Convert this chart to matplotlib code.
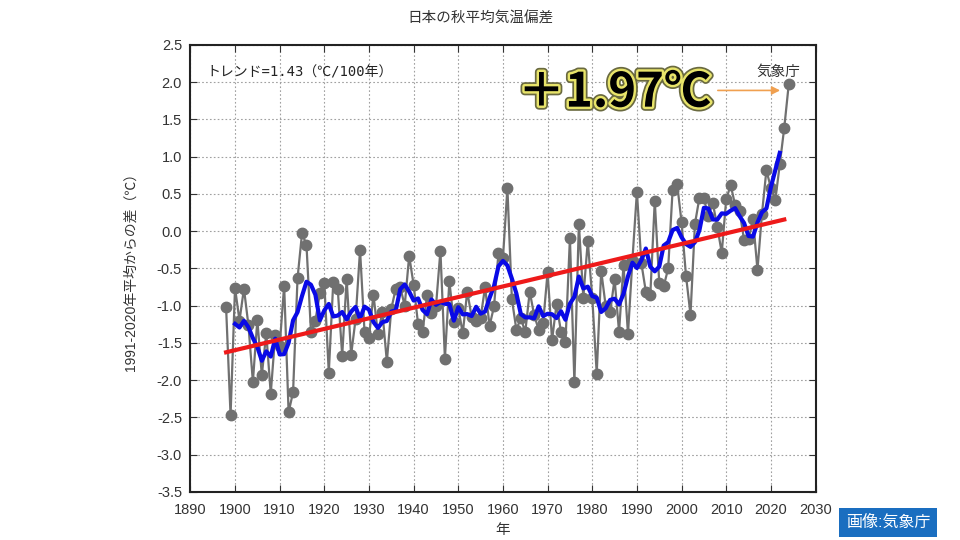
import numpy as np
import matplotlib
matplotlib.use("Agg")
import matplotlib.pyplot as plt
import matplotlib.patheffects as pe

plt.rcParams['font.family'] = ['Liberation Sans', 'Noto Sans CJK JP', 'DejaVu Sans']

# 日本の秋平均気温偏差 (1991-2020年平均からの差, ℃)
years = list(range(1898, 2025))
anomaly = [
    -1.02, -2.47, -0.76, -1.20, -0.77, -1.26, -2.02, -1.19, -1.93, -1.37,  # 1898-1907
    -2.18, -1.39, -1.54, -0.73, -2.43, -2.16, -0.63, -0.03, -0.18, -1.35,  # 1908-1917
    -1.20, -0.83, -0.70, -1.90, -0.68, -0.77, -1.67, -0.64, -1.66, -1.18,  # 1918-1927
    -0.25, -1.35, -1.43, -0.85, -1.38, -1.08, -1.75, -1.04, -0.77, -0.75,  # 1928-1937
    -1.00, -0.33, -0.72, -1.25, -1.35, -0.86, -1.10, -1.01, -0.26, -1.71,  # 1938-1947
    -0.67, -1.22, -1.03, -1.37, -0.81, -1.15, -1.20, -1.16, -0.75, -1.27,  # 1948-1957
    -1.01, -0.29, -0.36, 0.58, -0.91, -1.32, -1.17, -1.35, -0.81, -1.13,   # 1958-1967
    -1.32, -1.23, -0.55, -1.46, -0.98, -1.35, -1.49, -0.09, -2.03, 0.10,   # 1968-1977
    -0.89, -0.13, -0.89, -1.91, -0.53, -1.00, -1.09, -0.64, -1.35, -0.45,  # 1978-1987
    -1.38, -0.38, 0.53, -0.43, -0.81, -0.86, 0.41, -0.69, -0.74, -0.50,    # 1988-1997
    0.56, 0.64, 0.12, -0.60, -1.12, 0.10, 0.45, 0.44, 0.20, 0.38,          # 1998-2007
    0.06, -0.29, 0.43, 0.62, 0.35, 0.27, -0.12, -0.11, 0.16, -0.52,        # 2008-2017
    0.23, 0.82, 0.58, 0.42, 0.90, 1.39, 1.97,                              # 2018-2024
]
trend_per_century = 1.43
latest_text = "＋1.97℃"

yrs = np.array(years)
vals = np.array(anomaly)

# 5年移動平均
run5 = np.convolve(vals, np.ones(5) / 5, mode='valid')
run5_years = yrs[2:-2]

# 長期変化傾向
coef = np.polyfit(yrs, vals, 1)
trend_years = np.array([yrs[0], yrs[-2]])
trend_vals = np.polyval(coef, trend_years)

fig = plt.figure(figsize=(9.6, 5.4), dpi=100)
ax = fig.add_axes([0.1983, 0.0889, 0.6512, 0.8278])

ax.plot(yrs, vals, color='#707070', lw=1.6, marker='o', ms=7.5,
        mfc='#707070', mec='#707070', zorder=2)
ax.plot(run5_years, run5, color='#0a0ae6', lw=3, zorder=3)
ax.plot(trend_years, trend_vals, color='#ee1a1a', lw=3, zorder=4)

ax.set_xlim(1890, 2030)
ax.set_ylim(-3.5, 2.5)
ax.set_xticks(np.arange(1890, 2031, 10))
ax.set_yticks(np.arange(-3.5, 2.51, 0.5))
ax.set_yticklabels([f'{v:.1f}' for v in np.arange(-3.5, 2.51, 0.5)])
ax.grid(True, color='#a0a0a0', linestyle=(0, (1.5, 2)), lw=0.8)
ax.tick_params(direction='in', top=True, right=True, labelsize=10.5,
               length=5, color='#333333', labelcolor='#333333')
ax.tick_params(axis='x', pad=8)
ax.tick_params(axis='y', pad=6)
for s in ax.spines.values():
    s.set_linewidth(1.5)
    s.set_color('#222222')

ax.set_xlabel('年', fontsize=10.5, color='#333333', labelpad=4)
ax.set_ylabel('1991-2020年平均からの差（℃）', fontsize=10, color='#333333',
              labelpad=14)
fig.text(0.5, 0.965, '日本の秋平均気温偏差', ha='center', va='center',
         fontsize=10.5, color='#333333')

ax.text(0.025, 0.955, f'トレンド={trend_per_century:.2f}（℃/100年）',
        transform=ax.transAxes, ha='left', va='top', fontsize=10,
        family=['DejaVu Sans Mono', 'Noto Sans CJK JP'], color='#222222')
ax.text(0.975, 0.955, '気象庁', transform=ax.transAxes, ha='right', va='top',
        fontsize=10.5, color='#333333')

big = ax.text(1985.0, vals[-1] - 0.11, latest_text, ha='center', va='center',
              fontsize=34, fontweight='bold', color='black',
              family=['Noto Sans CJK JP'], zorder=6)
big.set_path_effects([pe.Stroke(linewidth=6, foreground='#6a6a40'),
                      pe.Stroke(linewidth=3.5, foreground='#e8e46a'),
                      pe.Normal()])

ax.annotate('', xy=(years[-1] - 1.3, vals[-1] - 0.08),
            xytext=(years[-1] - 16.5, vals[-1] - 0.08),
            arrowprops=dict(arrowstyle='-|>', color='#f0a050', lw=1.2,
                            mutation_scale=12), zorder=5)

fig.text(0.925, 0.032, '画像:気象庁', ha='center', va='center', fontsize=11.5,
         color='white',
         bbox=dict(boxstyle='square,pad=0.45', fc='#1a6ec0', ec='none'))

fig.savefig('out.png', dpi=100)
